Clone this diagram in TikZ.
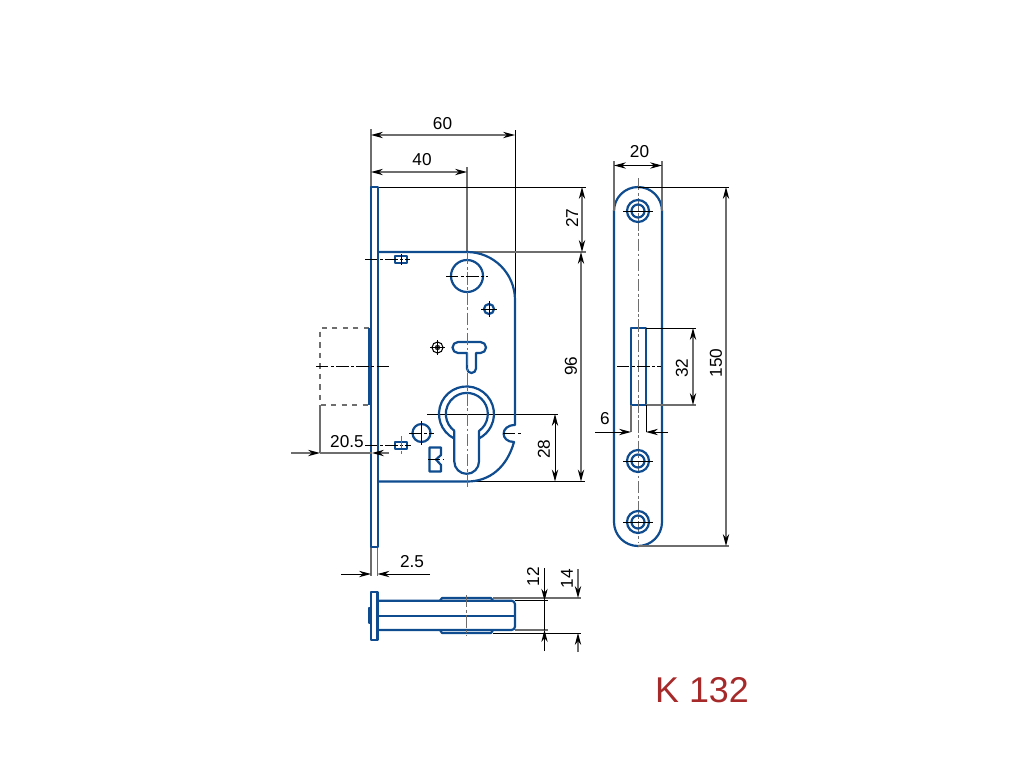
\documentclass[tikz,border=0pt]{standalone}
\usepackage{fontspec}
\setmainfont{Liberation Sans}
\usetikzlibrary{arrows.meta}
\definecolor{lockblue}{HTML}{0F4C8F}
\definecolor{dimgray}{HTML}{6E6E6E}
\definecolor{kred}{HTML}{A62A2A}
\tikzset{
  >={Stealth[length=6.8pt,width=3.6pt,black]},
  part/.style={draw=lockblue,line width=1.25pt,line join=round},
  ctr/.style={draw=dimgray,line width=.55pt,dash pattern=on 7pt off 1.5pt on 1.5pt off 1.5pt},
  ctrk/.style={draw=black,line width=.55pt,dash pattern=on 7pt off 1.5pt on 1.5pt off 1.5pt},
  ext/.style={draw=dimgray,line width=.6pt},
  extk/.style={draw=black,line width=.55pt},
  dim/.style={font=\fontsize{9.8pt}{11pt}\selectfont,inner sep=0pt},
}
\begin{document}
\begin{tikzpicture}[x=0.02cm,y=-0.02cm]
\useasboundingbox (0,0) rectangle (1024,768);
\fill[white] (0,0) rectangle (1024,768);
% extension lines
\draw[ext] (371,129) -- (371,187);   \draw[extk] (515,130) -- (515,296);
\draw[ext] (467,167) -- (467,252);   \draw[extk] (378,187) -- (586,187);
\draw[ext] (467,252) -- (586,252);   \draw[extk] (427,414) -- (558,414);
\draw[extk] (467,481.5) -- (585,481.5);
\draw[ext] (320,405) -- (320,453);   \draw[ext] (371,547) -- (371,576);
\draw[ext] (377.5,547) -- (377.5,576);
% main case
\draw[part] (371,187) rectangle (378,547);
\draw[part] (378,252) -- (467,252) arc[start angle=270,end angle=360,radius=48] -- (515,425)
  .. controls (500,425) and (500,442) .. (514,442)
  .. controls (507,467) and (490,481.5) .. (467,481.5) -- (378,481.5);
% bolt
\draw[draw=dimgray,line width=.6pt,dashed] (369,328) -- (320,328) -- (320,405) -- (369,405);
\draw[part,line width=1.8pt] (369.5,328) -- (369.5,405);
\draw[ctrk] (316,366) -- (391,366);
% holes in the case
\draw[part] (467,276) circle (16);
\draw[part] (489,309) circle (5);
\draw[part] (421.5,433) circle (9);
\draw[part] (395,256) rectangle (407,263);
\draw[part] (395,442) rectangle (407,449);
\draw[part] (454.3,438.6) arc[start angle=116.3,end angle=423.7,radius=27.5];
\draw[part] (454.3,431) -- (454.3,461.5) arc[start angle=180,end angle=0,radius=12.35] -- (479,431)
  arc[start angle=54.5,end angle=-234.5,radius=21];
\draw[part] (467,353) -- (458,353) arc[start angle=90,end angle=270,radius=5.5] -- (480.5,342)
  arc[start angle=-90,end angle=90,radius=5.5] -- (476,353) -- (476,368.5)
  arc[start angle=0,end angle=180,radius=4.5] -- cycle;
\draw[part] (429.5,447.5) -- (441,447.5) -- (441,455) -- (436,459.5)
  -- (441,465) -- (441,471.5) -- (429.5,471.5) -- cycle;
\draw[draw=black,line width=.6pt] (437.5,347.5) circle (5.5);
\fill[black!75] (437.5,347.5) circle (2.8);
\draw[extk] (430,347.5) -- (445,347.5) (437.5,340) -- (437.5,355);
% centre lines of the case
\draw[ctr] (467,252) -- (467,487);
\draw[ctrk] (446,276) -- (488,276);
\draw[extk] (481,309) -- (497,309) (489,301) -- (489,317);
\draw[ctrk] (365,259) -- (410,259);
\draw[extk] (401,254) -- (401,265);
\draw[ctrk] (365,445) -- (411,445);
\draw[ctr] (401,436) -- (401,454);
\draw[ctrk] (409,433) -- (434,433);
\draw[extk] (421.5,421) -- (421.5,445);
\draw[ctrk] (503,433) -- (521,433);
\draw[ctrk] (428,459) -- (443,459);
% dimensions of the case
\draw[<->,ext] (371,135) -- (515,135);
\draw[<->,ext] (371,172) -- (467,172);
\draw[<->,ext] (582,187) -- (582,252);
\draw[<->,ext] (581,252) -- (581,481.5);
\draw[<->,extk] (555,414) -- (555,481.5);
\node[dim] (d60) at (442.5,124) {60};
\node[dim] (d40) at (422,160) {40};
\node[dim,rotate=90] (d27) at (572,218) {27};
\node[dim,rotate=90] (d96) at (571,366) {96};
\node[dim,rotate=90] (d28) at (544,449) {28};
\draw[->,ext] (291,453) -- (320,453);
\draw[->,ext] (389,453) -- (372,453);
\draw[ext] (320,453) -- (372,453);
\node[dim] (d205) at (347,441.5) {20.5};
% bottom view
\draw[part] (371,592) rectangle (377.5,640);
\draw[part] (369,608) rectangle (371,623);
\draw[part,rounded corners=2pt] (377.5,600.7) -- (515,600.7) -- (515,630) -- (377.5,630);
\draw[part,line width=.9pt] (377.5,616) -- (515,616);
\draw[part] (440,600.7) -- (442,598) -- (491,598) -- (493,600.7);
\draw[part] (440,630) -- (442,633) -- (491,633) -- (493,630);
\draw[ctr] (466.7,595) -- (466.7,636);
\draw[ext] (493,598) -- (581,598);   \draw[extk] (515,600.7) -- (548,600.7);
\draw[ext] (515,630) -- (548,630);   \draw[extk] (493,633) -- (581,633);
\draw[extk] (544.5,600.7) -- (544.5,630);
\draw[->,extk] (544.5,568) -- (544.5,600.7);
\draw[->,extk] (544.5,651) -- (544.5,630);
\draw[->,ext] (578,569) -- (578,598);
\draw[->,ext] (578,652) -- (578,633);
\node[dim,rotate=90] (d12) at (533,576.5) {12};
\node[dim,rotate=90] (d14) at (567,578.5) {14};
\draw[->,extk] (341,574) -- (371,574);
\draw[->,extk] (430,574) -- (377.5,574);
\node[dim] (d25) at (412,562) {2.5};
% strike plate
\draw[part] (614,211) arc[start angle=180,end angle=360,radius=24] -- (662,522)
  arc[start angle=0,end angle=180,radius=24] -- cycle;
\draw[part] (631,328) rectangle (646,405);
\draw[ctr] (638,178) -- (638,543);
\draw[ctrk] (617,366) -- (661,366);
\foreach \hy in {211,461,522} {
  \draw[part] (638,\hy) circle (11) circle (6.5);
  \draw[extk] (623,\hy) -- (653,\hy);
}
\draw[ext] (614,161) -- (614,211);   \draw[ext] (662,161) -- (662,211);
\draw[extk] (638,187) -- (729,187);  \draw[ext] (638,546) -- (729,546);
\draw[extk] (646,328) -- (696,328);  \draw[ext] (646,405) -- (696,405);
\draw[ext] (631,405) -- (631,432);   \draw[extk] (646,405) -- (646,432);
\draw[<->,extk] (614,165.5) -- (662,165.5);
\draw[<->,ext] (726,187) -- (726,546);
\draw[<->,ext] (693,328) -- (693,405);
\node[dim] (d20) at (639.5,152) {20};
\node[dim,rotate=90] (d150) at (716,363) {150};
\node[dim,rotate=90] (d32) at (682,368) {32};
\draw[->,extk] (595,432) -- (631,432);
\draw[->,extk] (668,432) -- (646,432);
\node[dim] (d6) at (605,419) {6};
\node[text=kred,font=\fontsize{20.4pt}{24pt}\selectfont,inner sep=0pt] (title) at (702,690) {K 132};
\end{tikzpicture}
\end{document}
